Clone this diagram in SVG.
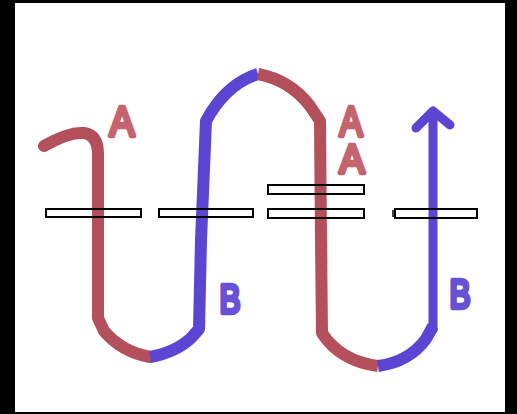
<svg xmlns="http://www.w3.org/2000/svg" width="517" height="414" viewBox="0 0 517 414">
  <style>
    .strand { fill: none; stroke-width: 12; stroke-linejoin: round; }
    .red { stroke: #b4505b; }
    .blue { stroke: #5a46d2; }
    .butt { stroke-linecap: butt; }
    .round { stroke-linecap: round; }
    .bar { fill: none; stroke: #000; stroke-width: 2; }
    .lbl { font-family: "Liberation Sans", Arial, sans-serif; text-anchor: middle; stroke-width: 4.5; stroke-linejoin: round; stroke-linecap: round; }
    .lbl-a { fill: #c4646f; stroke: #c4646f; }
    .lbl-b { fill: #6752d6; stroke: #6752d6; }
  </style>

  <!-- frame -->
  <rect x="0" y="0" width="517" height="414" fill="#000"/>
  <rect x="15" y="3" width="490" height="409" fill="#fff"/>

  <!-- strand, drawn piece by piece by colour -->
  <g id="connectors">
    <path class="strand red round" d="M44,146 C58,138 73,132 84,133 Q98,135 98,154 L98,318 L104,331 Q122,352 150,357"/>
    <path class="strand blue butt" d="M150,357 Q177,352 192,337 L199,329 L201,240 L206,121 Q226,84 258,74"/>
    <path class="strand red butt" d="M258,74 Q290,80 310,106 L320,121 L321,240 L322,333 Q340,361 378,366"/>
    <path class="strand blue butt" d="M378,366 Q409,362 426,339 L433,326"/>
    <path class="strand blue round" style="stroke-width:9" d="M433,330 L433,112"/>
    <path class="strand blue round" style="stroke-width:9" d="M416,128 L433,111 L450,125"/>
  </g>

  <!-- bars -->
  <g id="bar1"><rect class="bar" x="46" y="209" width="95" height="8"/></g>
  <g id="bar2"><rect class="bar" x="159" y="209" width="94" height="8"/></g>
  <g id="bar3"><rect class="bar" x="268" y="209" width="96" height="9"/></g>
  <g id="bar4"><rect class="bar" x="268" y="185" width="96" height="9"/></g>
  <g id="bar5">
    <rect class="bar" x="395" y="209" width="82" height="9"/>
    <line x1="393" y1="210" x2="393" y2="217" stroke="#000" stroke-width="1.5"/>
  </g>

  <!-- labels -->
  <g id="label-a1"><text class="lbl lbl-a" x="122" y="136" font-size="43" textLength="25" lengthAdjust="spacingAndGlyphs">A</text></g>
  <g id="label-a2"><text class="lbl lbl-a" x="351" y="136" font-size="43" textLength="23" lengthAdjust="spacingAndGlyphs">A</text></g>
  <g id="label-a3"><text class="lbl lbl-a" x="352" y="173" font-size="40" textLength="25" lengthAdjust="spacingAndGlyphs">A</text></g>
  <g id="label-b1"><text class="lbl lbl-b" x="230" y="313" font-size="41" textLength="21" lengthAdjust="spacingAndGlyphs">B</text></g>
  <g id="label-b2"><text class="lbl lbl-b" x="460" y="308" font-size="41" textLength="21" lengthAdjust="spacingAndGlyphs">B</text></g>
</svg>
